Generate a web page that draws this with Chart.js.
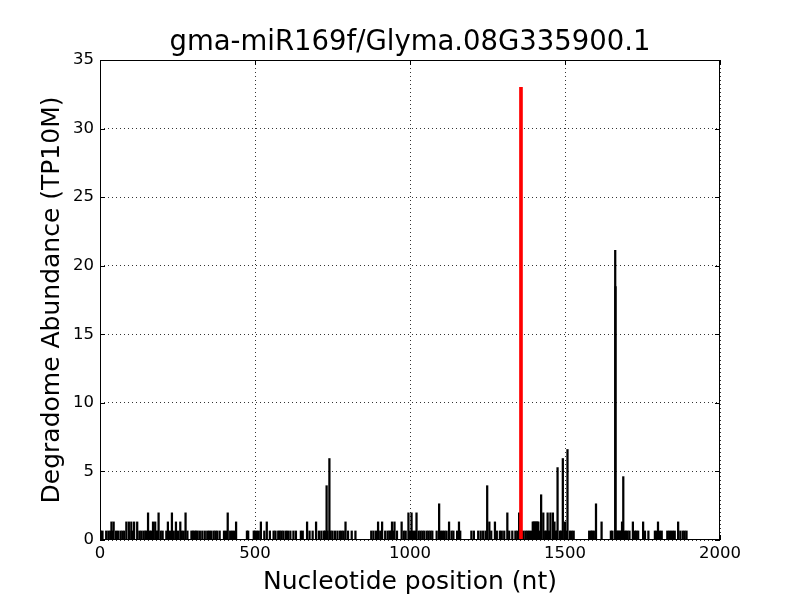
<!DOCTYPE html>
<html>
<head>
<meta charset="utf-8">
<script src="https://cdn.jsdelivr.net/npm/chart.js@4/dist/chart.umd.min.js"></script>
<style>
  body { margin: 0; background: #fff; }
  canvas { display: block; }
</style>
</head>
<body>
<canvas id="myChart" width="800" height="600"></canvas>
<script>
// degradome reads along the transcript (nucleotide position -> TP10M)
var pos066 = [3, 8, 20, 27, 33, 41, 52, 58, 66, 72, 78, 95, 104, 127, 133, 140, 146, 150, 160, 165, 182, 186, 196,
  202, 214, 226, 238, 252, 264, 270, 282, 295, 300, 305, 310, 315, 322, 330, 338, 346, 352, 358, 366, 372, 378,
  386, 400, 406, 420, 426, 432, 474, 478, 496, 500, 506, 512, 530, 548, 560, 566, 575, 580, 586, 592, 600, 606,
  614, 624, 632, 648, 654, 676, 686, 706, 714, 722, 726, 734, 744, 750, 758, 766, 774, 780, 786, 800, 812, 824,
  875, 882, 890, 904, 920, 928, 934, 938, 946, 958, 980, 986, 1000, 1010, 1016, 1028, 1034, 1040, 1046, 1054,
  1060, 1066, 1072, 1086, 1100, 1106, 1112, 1118, 1134, 1140, 1152, 1162, 1198, 1206, 1220, 1228, 1236, 1244,
  1262, 1280, 1290, 1296, 1304, 1320, 1330, 1340, 1346, 1365, 1372, 1378, 1384, 1390, 1418, 1436, 1440, 1448,
  1470, 1474, 1484, 1488, 1506, 1516, 1522, 1528, 1578, 1584, 1588, 1593, 1648, 1653, 1668, 1672, 1676, 1680,
  1692, 1697, 1702, 1708, 1726, 1730, 1736, 1758, 1769, 1790, 1796, 1806, 1812, 1830, 1836, 1842, 1848, 1854,
  1872, 1880, 1886, 1892];
var pos132 = [37, 44, 85, 93, 101, 110, 120, 171, 178, 219, 245, 259, 439, 519, 538, 668, 697, 792, 897, 910,
  942, 950, 973, 1126, 1158, 1256, 1274, 1396, 1399, 1402, 1405, 1408, 1411, 1414, 1466, 1500, 1618, 1684,
  1719, 1752, 1800, 1865];
var pos198 = [155, 189, 232, 276, 412, 995, 1005, 1021, 1314, 1352, 1430, 1444, 1453, 1461];
var tallPos = [731, 740, 1094, 1249, 1423, 1476, 1493, 1508, 1600, 1662, 1663, 1688];
var tallVal = [3.96, 5.94, 2.64, 3.96, 3.3, 5.28, 5.94, 6.6, 2.64, 21.12, 18.48, 4.62];
var cleavePos = [1358];
var cleaveVal = [33.0];

var xTicks = [0, 500, 1000, 1500, 2000];
var yTicks = [0, 5, 10, 15, 20, 25, 30, 35];

function pts(xs, ys) {
  return xs.map(function (x, i) { return { x: x, y: Array.isArray(ys) ? ys[i] : ys }; });
}
var blackData = pts(pos066, 0.66).concat(pts(pos132, 1.32), pts(pos198, 1.98), pts(tallPos, tallVal));

var frame = {
  id: 'frame',
  afterDatasetsDraw: function (chart) {
    var ctx = chart.ctx, a = chart.chartArea, sx = chart.scales.x, sy = chart.scales.y;
    ctx.save();
    ctx.strokeStyle = '#000';
    ctx.lineWidth = 1;
    ctx.beginPath();
    xTicks.forEach(function (v) {
      var p = Math.round(sx.getPixelForValue(v)) + 0.5;
      ctx.moveTo(p, a.bottom); ctx.lineTo(p, a.bottom - 5);
      ctx.moveTo(p, a.top); ctx.lineTo(p, a.top + 5);
    });
    yTicks.forEach(function (v) {
      var p = Math.round(sy.getPixelForValue(v)) + 0.5;
      ctx.moveTo(a.left, p); ctx.lineTo(a.left + 5, p);
      ctx.moveTo(a.right, p); ctx.lineTo(a.right - 5, p);
    });
    ctx.stroke();
    ctx.strokeRect(a.left + 0.5, a.top + 0.5, a.width - 1, a.height - 1);
    ctx.restore();
  }
};

var ctx = document.getElementById('myChart').getContext('2d');
var chart = new Chart(ctx, {
  type: 'bar',
  data: {
    datasets: [{
      data: blackData,
      backgroundColor: '#000',
      barThickness: 1.6,
      grouped: false,
      order: 2
    }, {
      data: pts(cleavePos, cleaveVal),
      backgroundColor: '#ff0000',
      barThickness: 3,
      grouped: false,
      order: 1
    }]
  },
  options: {
    responsive: false,
    animation: false,
    devicePixelRatio: 1,
    layout: { padding: { left: 0, right: 80, top: 0, bottom: 0 } },
    plugins: {
      legend: { display: false },
      tooltip: { enabled: false },
      title: {
        display: true,
        fullSize: false,
        text: 'gma-miR169f/Glyma.08G335900.1',
        color: '#000',
        font: { family: 'DejaVu Sans', size: 27.5, weight: 'normal', lineHeight: 1 },
        padding: { top: 29, bottom: 3.5 }
      }
    },
    scales: {
      x: {
        type: 'linear',
        min: 0, max: 2000,
        offset: false,
        afterFit: function (s) { s.height = 60; },
        afterBuildTicks: function (s) { s.ticks = xTicks.map(function (v) { return { value: v }; }); },
        ticks: {
          color: '#000', padding: 4, maxRotation: 0, font: { family: 'DejaVu Sans', size: 16.5 },
          callback: function (v) { return String(v); }
        },
        grid: { color: '#000', lineWidth: 0.8, drawTicks: false, offset: false },
        border: { display: false, dash: [1, 3] },
        title: {
          display: true, text: 'Nucleotide position (nt)', color: '#000',
          font: { family: 'DejaVu Sans', size: 25 }, padding: { top: 0, bottom: 3 }
        }
      },
      y: {
        min: 0, max: 35,
        afterFit: function (s) { s.width = 100; },
        afterBuildTicks: function (s) { s.ticks = yTicks.map(function (v) { return { value: v }; }); },
        ticks: {
          color: '#000', padding: 6, font: { family: 'DejaVu Sans', size: 16.5 },
          callback: function (v) { return String(v); }
        },
        grid: { color: '#000', lineWidth: 0.8, drawTicks: false },
        border: { display: false, dash: [1, 3] },
        title: {
          display: true, text: 'Degradome Abundance (TP10M)', color: '#000',
          font: { family: 'DejaVu Sans', size: 25 }, padding: { top: 37, bottom: 0 }
        }
      }
    }
  },
  plugins: [frame]
});
</script>
</body>
</html>
